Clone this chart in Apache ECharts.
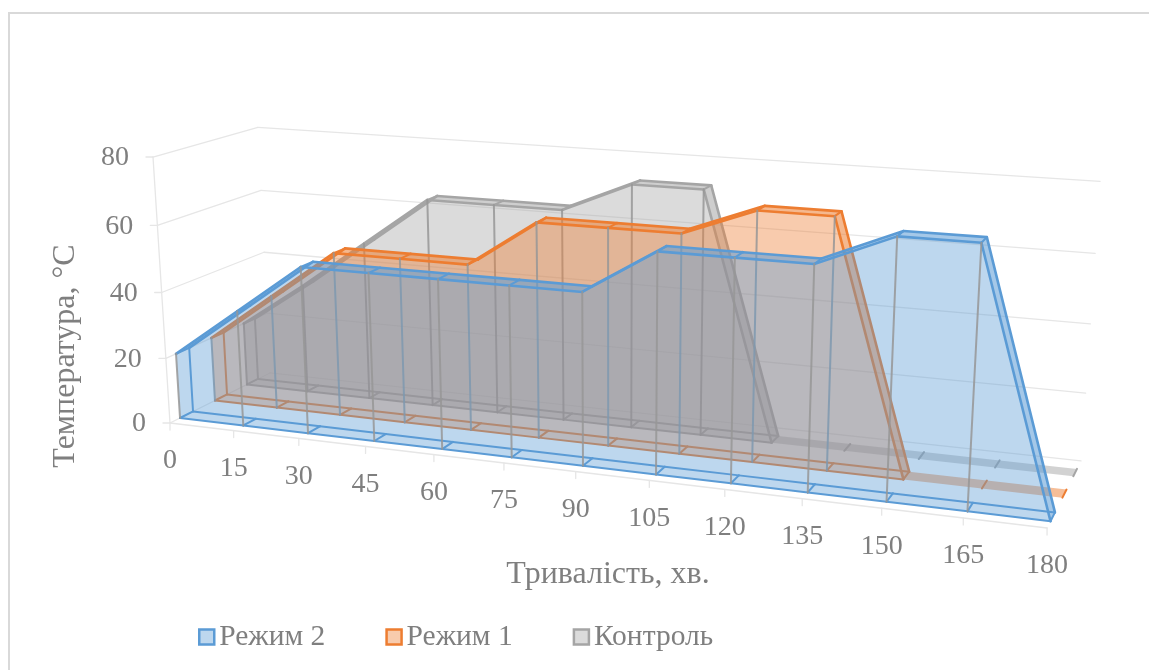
<!DOCTYPE html>
<html><head><meta charset="utf-8">
<style>html,body{margin:0;padding:0;background:#fff}#c{width:1149px;height:670px}</style>
<script src="https://cdn.jsdelivr.net/npm/echarts@6/dist/echarts.min.js"></script>
</head><body><div id="c"></div>
<script>
const categories = ['0','15','30','45','60','75','90','105','120','135','150','165','180'];
const yTicks = [0,20,40,60,80];
const mode2   = [20,35,50,50,50,50,50,63,63,63,72,72,0];
const mode1   = [20,35,50,50,50,64,64,64,72,72,0,0,0];
const control = [20,34,49,64,64,64,73,73,0,0,0,0,0];
const names = ['Контроль','Режим 1','Режим 2'];
const colors = {'Режим 2':'#5B9BD5','Режим 1':'#ED7D31','Контроль':'#A5A5A5'};
const depth = {'Режим 2':[0.093,0.216],'Режим 1':[0.429,0.55],'Контроль':[0.755,0.871]};
const values = {'Режим 2':mode2,'Режим 1':mode1,'Контроль':control};
const FONT = '"Liberation Serif", "Times New Roman", serif';
const TXT = '#7F7F7F';

// perspective camera: plane coordinates (s along time, d into depth, u up), all 0..1
function cam(s,d,u){
  const w = 1 - 0.1392*s + 0.0872*d - 0.037*u;
  return [(170 + 731.3*s + 123.5*d - 22.66*u)/w, (423 + 31.5*s - 17.5*d - 271.8*u)/w];
}
// library scales -> unit plane -> perspective
function project(api,i,v,d){
  const o = api.coord([0,0]), e = api.coord([categories.length-1,yTicks[yTicks.length-1]]), p = api.coord([i,v]);
  return cam((p[0]-o[0])/(e[0]-o[0]), d, (p[1]-o[1])/(e[1]-o[1]));
}
function line(a,b,color,width){return {type:'line',shape:{x1:a[0],y1:a[1],x2:b[0],y2:b[1]},style:{stroke:color,lineWidth:width,lineCap:'round'},silent:true};}
function poly(pts,fill){return {type:'polygon',shape:{points:pts},style:{fill:fill,stroke:null},silent:true};}
function rgba(hex,a){const n=parseInt(hex.slice(1),16);return `rgba(${n>>16},${(n>>8)&255},${n&255},${a})`;}

function renderSeries(name){
  const vals = values[name], col = colors[name], [d0,d1] = depth[name];
  const last = vals.reduce((m,v,i)=>v>0?i:m,0)+1;  // index where the area reaches zero
  return function(params,api){
    const i = params.dataIndex, kids = [];
    const v = vals[i], n = vals.length;
    if(i===0){
      const pts = [];
      for(let k=0;k<=last;k++) pts.push(project(api,k,vals[k],d0));
      pts.push(project(api,last,0,d0)); pts.push(project(api,0,0,d0));
      kids.push(poly(pts,rgba(col,0.4)));
    }
    if(i<n-1){
      const v2 = vals[i+1];
      const ft = project(api,i,v,d0), bt = project(api,i,v,d1), ft2 = project(api,i+1,v2,d0), bt2 = project(api,i+1,v2,d1);
      kids.push(poly([ft,ft2,bt2,bt],rgba(col,i>=last?0.5:0.55)));
      if(i<last){
        kids.push(line(bt,bt2,col,2.6));
        kids.push(line(ft,ft2,col,2.6));
        kids.push(line(project(api,i,0,d0),project(api,i+1,0,d0),col,2));
        kids.push(line(project(api,i,0,d1),project(api,i+1,0,d1),col,2));
      }
    }
    // cross strokes on floor and top at each step
    kids.push(line(project(api,i,0,d0),project(api,i,0,d1),col,2));
    if(i<last) kids.push(line(project(api,i,v,d0),project(api,i,v,d1),col,2));
    // drop lines on the front plane
    if(i<last) kids.push(line(project(api,i,v,d0),project(api,i,0,d0),'rgba(150,150,150,0.85)',2));
    if(i===0) kids.push(line(project(api,i,v,d1),project(api,i,0,d1),col,2));
    return {type:'group',children:kids};
  };
}
function renderFrame(params,api){
  const kids=[], GC='#E6E6E6', n=categories.length-1;
  yTicks.forEach(t=>{
    const a=project(api,0,t,0), b=project(api,0,t,1), c=project(api,n,t,1);
    kids.push(line(a,b,GC,1.3)); kids.push(line(b,c,GC,1.3));
    kids.push(line(a,[a[0]-7,a[1]],GC,1.3));
    kids.push({type:'text',x:a[0]-24,y:a[1]+1,style:{text:String(t),font:'28px '+FONT,fill:TXT,textAlign:'right',textVerticalAlign:'middle'},silent:true});
  });
  kids.push(line(project(api,0,0,0),project(api,0,80,0),GC,1.3));
  kids.push(line(project(api,0,0,0),project(api,n,0,0),GC,1.3));
  categories.forEach((c,i)=>{
    const p=project(api,i,0,0);
    kids.push(line(p,[p[0],p[1]+7],GC,1.3));
    kids.push({type:'text',x:p[0],y:p[1]+38,style:{text:c,font:'28px '+FONT,fill:TXT,textAlign:'center',textVerticalAlign:'middle'},silent:true});
  });
  return {type:'group',children:kids};
}

const series = [{type:'custom',name:'frame',coordinateSystem:'cartesian2d',data:[[0,0]],renderItem:renderFrame,silent:true,z:1,clip:false}];
names.forEach((nm,k)=>series.push({type:'custom',name:nm,coordinateSystem:'cartesian2d',
  data:values[nm].map((v,i)=>[i,v]),renderItem:renderSeries(nm),silent:true,z:2+k,clip:false,
  itemStyle:{color:rgba(colors[nm],0.4),borderColor:colors[nm],borderWidth:2.5}}));

const chart = echarts.init(document.getElementById('c'),null,{renderer:'canvas'});
chart.setOption({
  animation:false,backgroundColor:'#fff',
  grid:{left:200,right:200,top:150,bottom:200},
  xAxis:{type:'category',data:categories,boundaryGap:false,show:false},
  yAxis:{type:'value',min:0,max:80,interval:20,show:false},
  legend:{left:193,top:617,icon:'rect',itemWidth:15,itemHeight:15,itemGap:60,
    textStyle:{fontFamily:FONT,fontSize:29.5,color:TXT},selectedMode:false,
    data:['Режим 2','Режим 1','Контроль'].map(n=>({name:n,itemStyle:{color:rgba(colors[n],0.4),borderColor:colors[n],borderWidth:2.5}}))},
  graphic:[
    {type:'line',shape:{x1:9,y1:12,x2:9,y2:670},style:{stroke:'#D9D9D9',lineWidth:2},silent:true},
    {type:'line',shape:{x1:8,y1:13,x2:1149,y2:13},style:{stroke:'#D9D9D9',lineWidth:2},silent:true},
    {type:'text',x:608,y:575,style:{text:'Тривалість, хв.',font:'32px '+FONT,fill:TXT,textAlign:'center',textVerticalAlign:'middle'},silent:true},
    {type:'text',x:66,y:356,rotation:Math.PI/2,style:{text:'Температура, °C',font:'32px '+FONT,fill:TXT,textAlign:'center',textVerticalAlign:'middle'},silent:true}
  ],
  series
});
</script></body></html>
